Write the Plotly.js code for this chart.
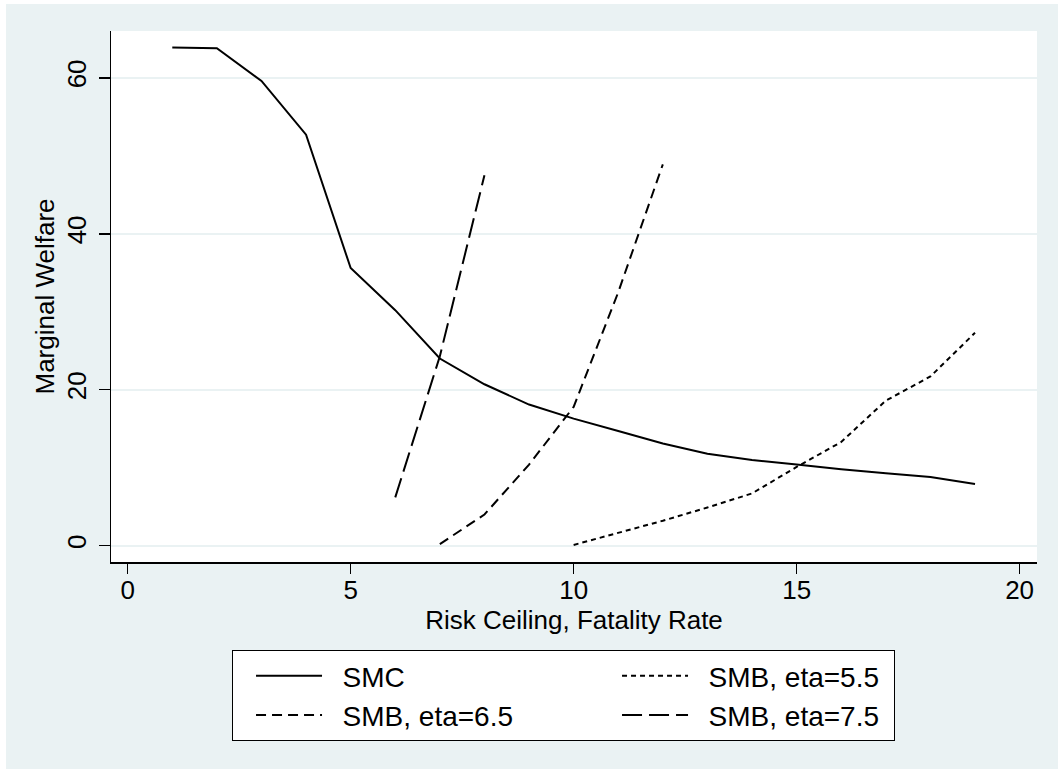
<!DOCTYPE html>
<html>
<head>
<meta charset="utf-8">
<script src="https://cdn.plot.ly/plotly-3.0.1.min.js"></script>
<style>
  html, body { margin: 0; padding: 0; background: #ffffff; }
  #chart { position: absolute; left: 6px; top: 4px; width: 1052px; height: 765px; }
</style>
</head>
<body>
<div id="chart"></div>
<script>
// ---- data ----
const xSMC = [1, 2, 3, 4, 5, 6, 7, 8, 9, 10, 11, 12, 13, 14, 15, 16, 17, 18, 19];
const ySMC = [63.9, 63.8, 59.6, 52.7, 35.6, 30.2, 24.0, 20.7, 18.1, 16.3, 14.7, 13.1, 11.8, 11.0, 10.4, 9.8, 9.3, 8.8, 7.9];

const xEta55 = [10, 11, 12, 13, 14, 15, 16, 17, 18, 19];
const yEta55 = [0.1, 1.6, 3.2, 4.9, 6.7, 10.1, 13.3, 18.6, 21.7, 27.3];

const xEta65 = [7, 8, 9, 10, 11, 12];
const yEta65 = [0.2, 4.0, 10.4, 17.8, 32.5, 48.9];

const xEta75 = [6, 7, 8];
const yEta75 = [6.2, 24.3, 47.5];

const seriesNames = ["SMC", "SMB, eta=5.5", "SMB, eta=6.5", "SMB, eta=7.5"];
const xTicks = [0, 5, 10, 15, 20];
const yTicks = [0, 20, 40, 60];

const FONT = "Liberation Sans, Arial, sans-serif";
const lw = 2;
const pad = "\u00a0\u00a0";

const traces = [
  {x: xSMC, y: ySMC, name: pad + seriesNames[0], legendwidth: 267, mode: "lines", line: {color: "#000", width: lw, dash: "solid"}},
  {x: xEta55, y: yEta55, name: pad + seriesNames[1], legendwidth: 196, mode: "lines", line: {color: "#000", width: lw, dash: "5px,4px"}},
  {x: xEta65, y: yEta65, name: pad + seriesNames[2], legendwidth: 267, mode: "lines", line: {color: "#000", width: lw, dash: "10px,6px"}},
  {x: xEta75, y: yEta75, name: pad + seriesNames[3], legendwidth: 196, mode: "lines", line: {color: "#000", width: lw, dash: "20px,7px"}}
];

const layout = {
  width: 1052, height: 765,
  paper_bgcolor: "#eaf2f3",
  plot_bgcolor: "#ffffff",
  margin: {l: 105, r: 21, t: 27, b: 207},
  font: {family: FONT, size: 26, color: "#000"},
  showlegend: true,
  xaxis: {
    range: [-0.374, 20.39],
    tickvals: xTicks, ticktext: xTicks.map(String),
    ticks: "outside", ticklen: 10, tickwidth: 1.5, tickcolor: "#000",
    ticklabelstandoff: -6,
    showline: true, linecolor: "#000", linewidth: 1.5,
    showgrid: false, zeroline: false,
    tickfont: {size: 26},
    title: {text: "Risk Ceiling, Fatality Rate", font: {size: 26}, standoff: 4}
  },
  yaxis: {
    range: [-2.09, 66.0],
    tickvals: yTicks, ticktext: yTicks.map(String),
    tickangle: -90,
    ticks: "outside", ticklen: 11, tickwidth: 1.5, tickcolor: "#000",
    ticklabelstandoff: 2,
    showline: true, linecolor: "#000", linewidth: 1.5,
    showgrid: true, gridcolor: "#eaf2f3", gridwidth: 2,
    zeroline: false,
    tickfont: {size: 26},
    title: {text: "Marginal Welfare", font: {size: 26}, standoff: 0}
  },
  legend: {
    orientation: "h",
    x: 0.1307, xanchor: "left",
    y: -0.1657, yanchor: "top",
    bgcolor: "#ffffff",
    bordercolor: "#000", borderwidth: 1,
    font: {size: 28, family: FONT},
    itemwidth: 66,
    indentation: 18,
    traceorder: "normal"
  }
};

Plotly.newPlot("chart", traces, layout, {displayModeBar: false, staticPlot: true});
</script>
</body>
</html>
